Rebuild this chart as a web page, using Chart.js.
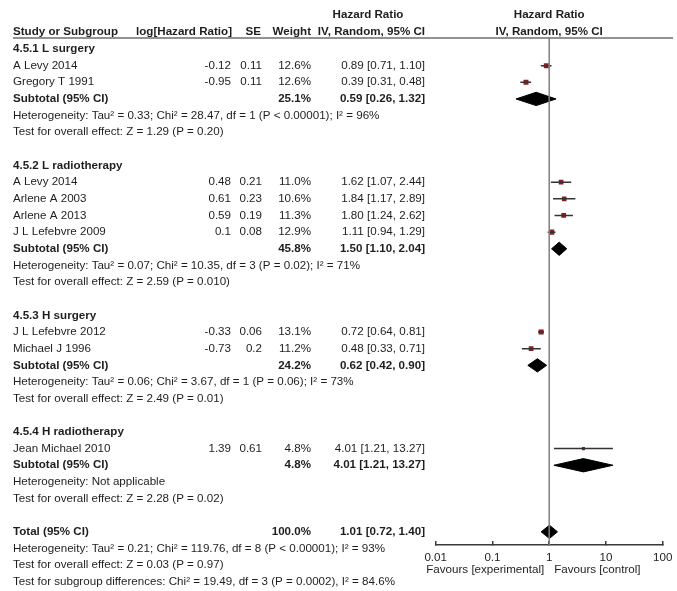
<!DOCTYPE html>
<html>
<head>
<meta charset="utf-8">
<script src="https://cdn.jsdelivr.net/npm/chart.js@4.4.1/dist/chart.umd.min.js"></script>
<style>
  html, body { margin: 0; padding: 0; background: #fff; }
  #wrap { width: 677px; height: 591px; }
</style>
</head>
<body>
<div id="wrap"><canvas id="forest"></canvas></div>
<script>
// ---- data ----
const groupNames = ['4.5.1 L surgery', '4.5.2 L radiotherapy', '4.5.3 H surgery', '4.5.4 H radiotherapy'];
const studyNames = ['A Levy 2014', 'Gregory T 1991', 'A Levy 2014', 'Arlene A 2003', 'Arlene A 2013',
                    'J L Lefebvre 2009', 'J L Lefebvre 2012', 'Michael J 1996', 'Jean Michael 2010'];
const studyGroup = [0, 0, 1, 1, 1, 1, 2, 2, 3];
const logHR   = [-0.12, -0.95, 0.48, 0.61, 0.59, 0.1, -0.33, -0.73, 1.39];
const seVals  = [0.11, 0.11, 0.21, 0.23, 0.19, 0.08, 0.06, 0.2, 0.61];
const weights = [12.6, 12.6, 11.0, 10.6, 11.3, 12.9, 13.1, 11.2, 4.8];
const hr      = [0.89, 0.39, 1.62, 1.84, 1.80, 1.11, 0.72, 0.48, 4.01];
const hrLow   = [0.71, 0.31, 1.07, 1.17, 1.24, 0.94, 0.64, 0.33, 1.21];
const hrHigh  = [1.10, 0.48, 2.44, 2.89, 2.62, 1.29, 0.81, 0.71, 13.27];

const subWeight = [25.1, 45.8, 24.2, 4.8];
const subHR     = [0.59, 1.50, 0.62, 4.01];
const subLow    = [0.26, 1.10, 0.42, 1.21];
const subHigh   = [1.32, 2.04, 0.90, 13.27];
const subHetero = [
  'Heterogeneity: Tau\u00b2 = 0.33; Chi\u00b2 = 28.47, df = 1 (P < 0.00001); I\u00b2 = 96%',
  'Heterogeneity: Tau\u00b2 = 0.07; Chi\u00b2 = 10.35, df = 3 (P = 0.02); I\u00b2 = 71%',
  'Heterogeneity: Tau\u00b2 = 0.06; Chi\u00b2 = 3.67, df = 1 (P = 0.06); I\u00b2 = 73%',
  'Heterogeneity: Not applicable'
];
const subEffect = [
  'Test for overall effect: Z = 1.29 (P = 0.20)',
  'Test for overall effect: Z = 2.59 (P = 0.010)',
  'Test for overall effect: Z = 2.49 (P = 0.01)',
  'Test for overall effect: Z = 2.28 (P = 0.02)'
];

const totalWeight = 100.0, totalHR = 1.01, totalLow = 0.72, totalHigh = 1.40;
const totalNotes = [
  'Heterogeneity: Tau\u00b2 = 0.21; Chi\u00b2 = 119.76, df = 8 (P < 0.00001); I\u00b2 = 93%',
  'Test for overall effect: Z = 0.03 (P = 0.97)',
  'Test for subgroup differences: Chi\u00b2 = 19.49, df = 3 (P = 0.0002), I\u00b2 = 84.6%'
];

const xTicks = [0.01, 0.1, 1, 10, 100];
const xTickLabels = ['0.01', '0.1', '1', '10', '100'];
const favours = ['Favours [experimental]', 'Favours [control]'];

// ---- row layout (one row per text line) ----
var groupRow = [], studyRows = [], subRow = [], hetRow = [], effRow = [];
var r = 0;
groupNames.forEach(function(g, gi) {
  groupRow.push(r++);
  studyGroup.forEach(function(sg, i) { if (sg === gi) studyRows[i] = r++; });
  subRow.push(r++);
  hetRow.push(r++);
  effRow.push(r++);
  r++; // blank line
});
const totalRow = r;
const rowTop = -0.66, rowBottom = 29.79;   // visible rows in the plot area

const FONT = '"Liberation Sans", Arial, Helvetica, sans-serif';
const FSIZE = 11.6;
const TEXT = '#1e1e1e';

// ---- datasets ----
var datasets = [];
datasets.push({ // line of no effect
  data: [{x: 1, y: rowTop}, {x: 1, y: rowBottom}],
  showLine: true, borderColor: '#808080', borderWidth: 1.5, pointRadius: 0
});
studyRows.forEach(function(row, i) {
  datasets.push({
    data: [{x: hrLow[i], y: row}, {x: hrHigh[i], y: row}],
    showLine: true, borderColor: '#333333', borderWidth: 1.5, pointRadius: 0
  });
});
datasets.push({
  data: hr.map(function(v, i) { return {x: v, y: studyRows[i]}; }),
  pointStyle: 'rect',
  pointRadius: weights.map(function(w) { return Math.sqrt(w) * 1.0; }),
  backgroundColor: '#8b1c24', borderWidth: 0
});
function diamond(lo, est, hi, row) {
  var h = 0.4;
  return {
    data: [{x: lo, y: row}, {x: est, y: row - h}, {x: hi, y: row}, {x: est, y: row + h}, {x: lo, y: row}],
    showLine: true, fill: 'shape', backgroundColor: '#000', borderColor: '#000',
    borderWidth: 1, pointRadius: 0, tension: 0
  };
}
subHR.forEach(function(v, gi) { datasets.push(diamond(subLow[gi], v, subHigh[gi], subRow[gi])); });
datasets.push(diamond(totalLow, totalHR, totalHigh, totalRow));

// ---- table text drawn next to the plot ----
const tablePlugin = {
  id: 'forestTable',
  afterDraw: function(chart) {
    var ctx = chart.ctx, ys = chart.scales.y, xs = chart.scales.x;
    function put(text, px, row, align, bold) {
      ctx.font = (bold ? 'bold ' : '') + FSIZE + 'px ' + FONT;
      ctx.fillStyle = TEXT;
      ctx.textAlign = align;
      ctx.textBaseline = 'middle';
      ctx.fillText(text, px, ys.getPixelForValue(row));
    }
    ctx.save();
    var cName = 13, cLog = 231, cSE = 262, cW = 311, cCI = 425;
    var one = xs.getPixelForValue(1);
    // headers
    put('Hazard Ratio', 368, -2.05, 'center', true);
    put('Study or Subgroup', cName, -1.02, 'left', true);
    put('log[Hazard Ratio]', cLog + 1, -1.02, 'right', true);
    put('SE', cSE - 1, -1.02, 'right', true);
    put('Weight', cW, -1.02, 'right', true);
    put('IV, Random, 95% CI', cCI, -1.02, 'right', true);
    put('Hazard Ratio', one, -2.05, 'center', true);
    put('IV, Random, 95% CI', one, -1.02, 'center', true);
    // header rule
    ctx.strokeStyle = '#6e6e6e';
    ctx.lineWidth = 1.5;
    ctx.beginPath();
    ctx.moveTo(13, chart.chartArea.top);
    ctx.lineTo(673, chart.chartArea.top);
    ctx.stroke();

    groupNames.forEach(function(g, gi) {
      put(g, cName, groupRow[gi], 'left', true);
      put('Subtotal (95% CI)', cName, subRow[gi], 'left', true);
      put(subWeight[gi].toFixed(1) + '%', cW, subRow[gi], 'right', true);
      put(subHR[gi].toFixed(2) + ' [' + subLow[gi].toFixed(2) + ', ' + subHigh[gi].toFixed(2) + ']', cCI, subRow[gi], 'right', true);
      put(subHetero[gi], cName, hetRow[gi], 'left', false);
      put(subEffect[gi], cName, effRow[gi], 'left', false);
    });
    studyNames.forEach(function(n, i) {
      var row = studyRows[i];
      put(n, cName, row, 'left', false);
      put(String(logHR[i]), cLog, row, 'right', false);
      put(String(seVals[i]), cSE, row, 'right', false);
      put(weights[i].toFixed(1) + '%', cW, row, 'right', false);
      put(hr[i].toFixed(2) + ' [' + hrLow[i].toFixed(2) + ', ' + hrHigh[i].toFixed(2) + ']', cCI, row, 'right', false);
    });
    put('Total (95% CI)', cName, totalRow, 'left', true);
    put(totalWeight.toFixed(1) + '%', cW, totalRow, 'right', true);
    put(totalHR.toFixed(2) + ' [' + totalLow.toFixed(2) + ', ' + totalHigh.toFixed(2) + ']', cCI, totalRow, 'right', true);
    totalNotes.forEach(function(t, k) { put(t, cName, totalRow + 1 + k, 'left', false); });
    // favours labels under the axis
    put(favours[0], one - 5, totalRow + 2.3, 'right', false);
    put(favours[1], one + 5, totalRow + 2.3, 'left', false);
    ctx.restore();
  }
};

new Chart(document.getElementById('forest'), {
  type: 'scatter',
  data: { datasets: datasets },
  plugins: [tablePlugin],
  options: {
    responsive: true,
    maintainAspectRatio: false,
    animation: false,
    layout: { padding: { left: 435.7, right: 14.3, top: 38, bottom: 0 } },
    plugins: { legend: { display: false }, tooltip: { enabled: false } },
    scales: {
      x: {
        type: 'logarithmic',
        position: 'bottom',
        min: 0.01, max: 100,
        border: { display: true, color: '#3a3a3a', width: 1.5 },
        grid: { drawOnChartArea: false, drawTicks: true, tickLength: -4, color: '#3a3a3a', lineWidth: 1.5 },
        ticks: {
          color: TEXT, font: { family: FONT, size: FSIZE }, padding: 10,
          autoSkip: false, maxRotation: 0,
          callback: function(v, i) { return xTickLabels[i]; }
        },
        afterBuildTicks: function(scale) { scale.ticks = xTicks.map(function(v) { return {value: v}; }); },
        afterFit: function(scale) {
          scale.height = 46;
          scale.paddingLeft = 0;
          scale.paddingRight = 0;
        }
      },
      y: { type: 'linear', display: false, reverse: true, min: rowTop, max: rowBottom }
    }
  }
});
</script>
</body>
</html>
